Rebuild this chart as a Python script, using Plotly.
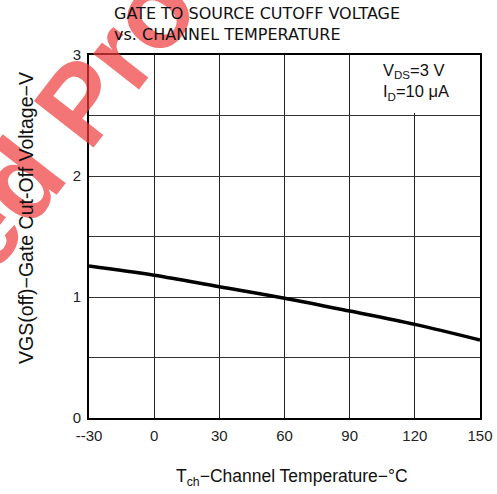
import plotly.graph_objects as go

# Data
temps = [-30, 0, 30, 60, 90, 120, 150]
vgs_off = [1.256, 1.18, 1.085, 0.99, 0.884, 0.774, 0.645]

x_tickvals = [-30, 0, 30, 60, 90, 120, 150]
x_ticktext = ["--30", "0", "30", "60", "90", "120", "150"]
y_tickvals = [0, 0.5, 1, 1.5, 2, 2.5, 3]
y_ticktext = ["0", "", "1", "", "2", "", "3"]

W, H = 497, 494
L, R, T, B = 89, 17, 55, 76
pw, ph = W - L - R, H - T - B


def px(xp):
    return (xp - L) / pw


def py(yp):
    return (H - B - yp) / ph


fig = go.Figure()
fig.add_trace(go.Scatter(x=temps, y=vgs_off, mode="lines",
                         line=dict(color="black", width=3.5, shape="spline"),
                         hoverinfo="skip", showlegend=False))

font_main = "Liberation Sans, Arial, sans-serif"

fig.update_layout(
    width=W, height=H,
    margin=dict(l=L, r=R, t=T, b=B, autoexpand=False),
    paper_bgcolor="white", plot_bgcolor="white",
    showlegend=False,
    xaxis=dict(range=[-30, 150], tickvals=x_tickvals, ticktext=x_ticktext,
               showgrid=True, gridcolor="#222", gridwidth=1, automargin=False,
               showline=True, linecolor="black", linewidth=2, mirror=True,
               ticks="", zeroline=False, ticklabelstandoff=3,
               tickfont=dict(family=font_main, size=15, color="#222")),
    yaxis=dict(range=[0, 3], tickvals=y_tickvals, ticktext=y_ticktext,
               showgrid=True, gridcolor="#333", gridwidth=1, automargin=False,
               showline=True, linecolor="black", linewidth=2, mirror=True,
               ticks="", zeroline=False, ticklabelstandoff=3,
               tickfont=dict(family=font_main, size=15, color="#222")),
)

# white box behind the condition label (covers grid in that cell)
fig.add_shape(type="rect", xref="x", yref="y", x0=91, x1=150, y0=2.52, y1=3,
              fillcolor="white", line=dict(width=0), layer="between")

ann = []
# red watermark (drawn first, under the other texts)
ann.append(dict(text="ed Product",
                xref="paper", yref="paper", x=px(138), y=py(29), xanchor="center", yanchor="middle",
                textangle=-52, showarrow=False, opacity=0.7,
                font=dict(family=font_main, size=110, weight="bold", color="rgb(240,60,60)")))
ann.append(dict(text="GATE TO SOURCE CUTOFF VOLTAGE<br>vs. CHANNEL TEMPERATURE",
                xref="paper", yref="paper", x=px(112), y=py(24), xanchor="left", yanchor="middle",
                align="left", showarrow=False,
                font=dict(family="DejaVu Sans, sans-serif", size=16, color="#111")))
ann.append(dict(text="V<sub>DS</sub>=3 V<br>I<sub>D</sub>=10 μA",
                xref="paper", yref="paper", x=px(416), y=py(82), xanchor="center", yanchor="middle",
                align="left", showarrow=False,
                font=dict(family=font_main, size=16.5, color="#111")))
ann.append(dict(text="T<sub>ch</sub>−Channel Temperature−°C",
                xref="paper", yref="paper", x=px(292), y=py(478), xanchor="center", yanchor="middle",
                showarrow=False,
                font=dict(family=font_main, size=17.5, color="#111")))
ann.append(dict(text="VGS(off)−Gate Cut-Off Voltage−V",
                xref="paper", yref="paper", x=px(26), y=py(218), xanchor="center", yanchor="middle",
                textangle=-90, showarrow=False,
                font=dict(family=font_main, size=19.5, color="#111")))
fig.update_layout(annotations=ann)

fig.write_html("out.html")
